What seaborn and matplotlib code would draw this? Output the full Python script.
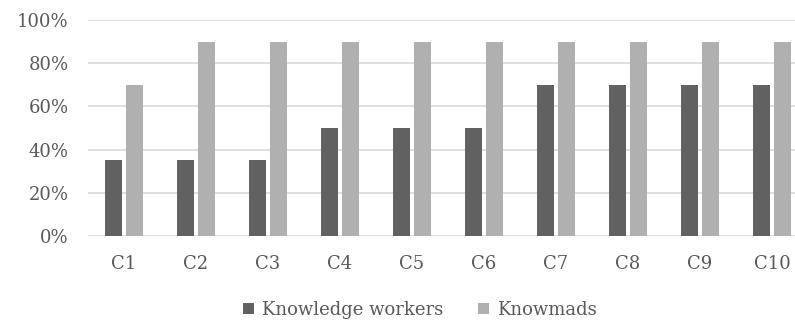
import matplotlib
matplotlib.use("Agg")
import matplotlib.pyplot as plt
import seaborn as sns
import pandas as pd
from matplotlib.ticker import PercentFormatter
from matplotlib.patches import Patch

categories = ["C1", "C2", "C3", "C4", "C5", "C6", "C7", "C8", "C9", "C10"]
knowledge_workers = [0.35, 0.35, 0.35, 0.50, 0.50, 0.50, 0.70, 0.70, 0.70, 0.70]
knowmads = [0.70, 0.90, 0.90, 0.90, 0.90, 0.90, 0.90, 0.90, 0.90, 0.90]
series_names = ["Knowledge workers", "Knowmads"]
colors = ["#616161", "#B0B0B0"]
y_ticks = [0, 0.2, 0.4, 0.6, 0.8, 1.0]

df = pd.DataFrame({
    "category": categories * 2,
    "value": knowledge_workers + knowmads,
    "series": [series_names[0]] * len(categories) + [series_names[1]] * len(categories),
})

sns.set_theme(style="white")
plt.rcParams["font.family"] = ["DejaVu Serif"]
text_color = "#595959"

W, H = 795, 322
fig = plt.figure(figsize=(W / 100, H / 100), dpi=100)
ax = fig.add_axes([88 / W, (H - 236) / H, 720 / W, 216 / H])

sns.barplot(data=df, x="category", y="value", hue="series", palette=colors,
            width=0.58, gap=0.22, ax=ax, legend=False, linewidth=0, saturation=1)

ax.set_ylim(0, 1.0)
ax.set_xlim(-0.5, len(categories) - 0.5)
ax.set_yticks(y_ticks)
ax.yaxis.set_major_formatter(PercentFormatter(1.0, decimals=0))
ax.grid(axis="y", color="#D9D9D9", linewidth=1.2)
ax.set_axisbelow(True)
for s in ax.spines.values():
    s.set_visible(False)
ax.tick_params(axis="both", length=0, labelsize=13, colors=text_color)
ax.tick_params(axis="y", pad=14)
ax.tick_params(axis="x", pad=14)
ax.set_xlabel("")
ax.set_ylabel("")

handles = [Patch(facecolor=c, edgecolor="none") for c in colors]
fig.legend(handles, series_names, loc="center", bbox_to_anchor=(420 / W, 1 - 310 / H),
           ncol=2, frameon=False, fontsize=13, labelcolor=text_color,
           handlelength=0.6, handleheight=0.6, handletextpad=0.45, columnspacing=1.9)

fig.savefig("out.png", dpi=100)
